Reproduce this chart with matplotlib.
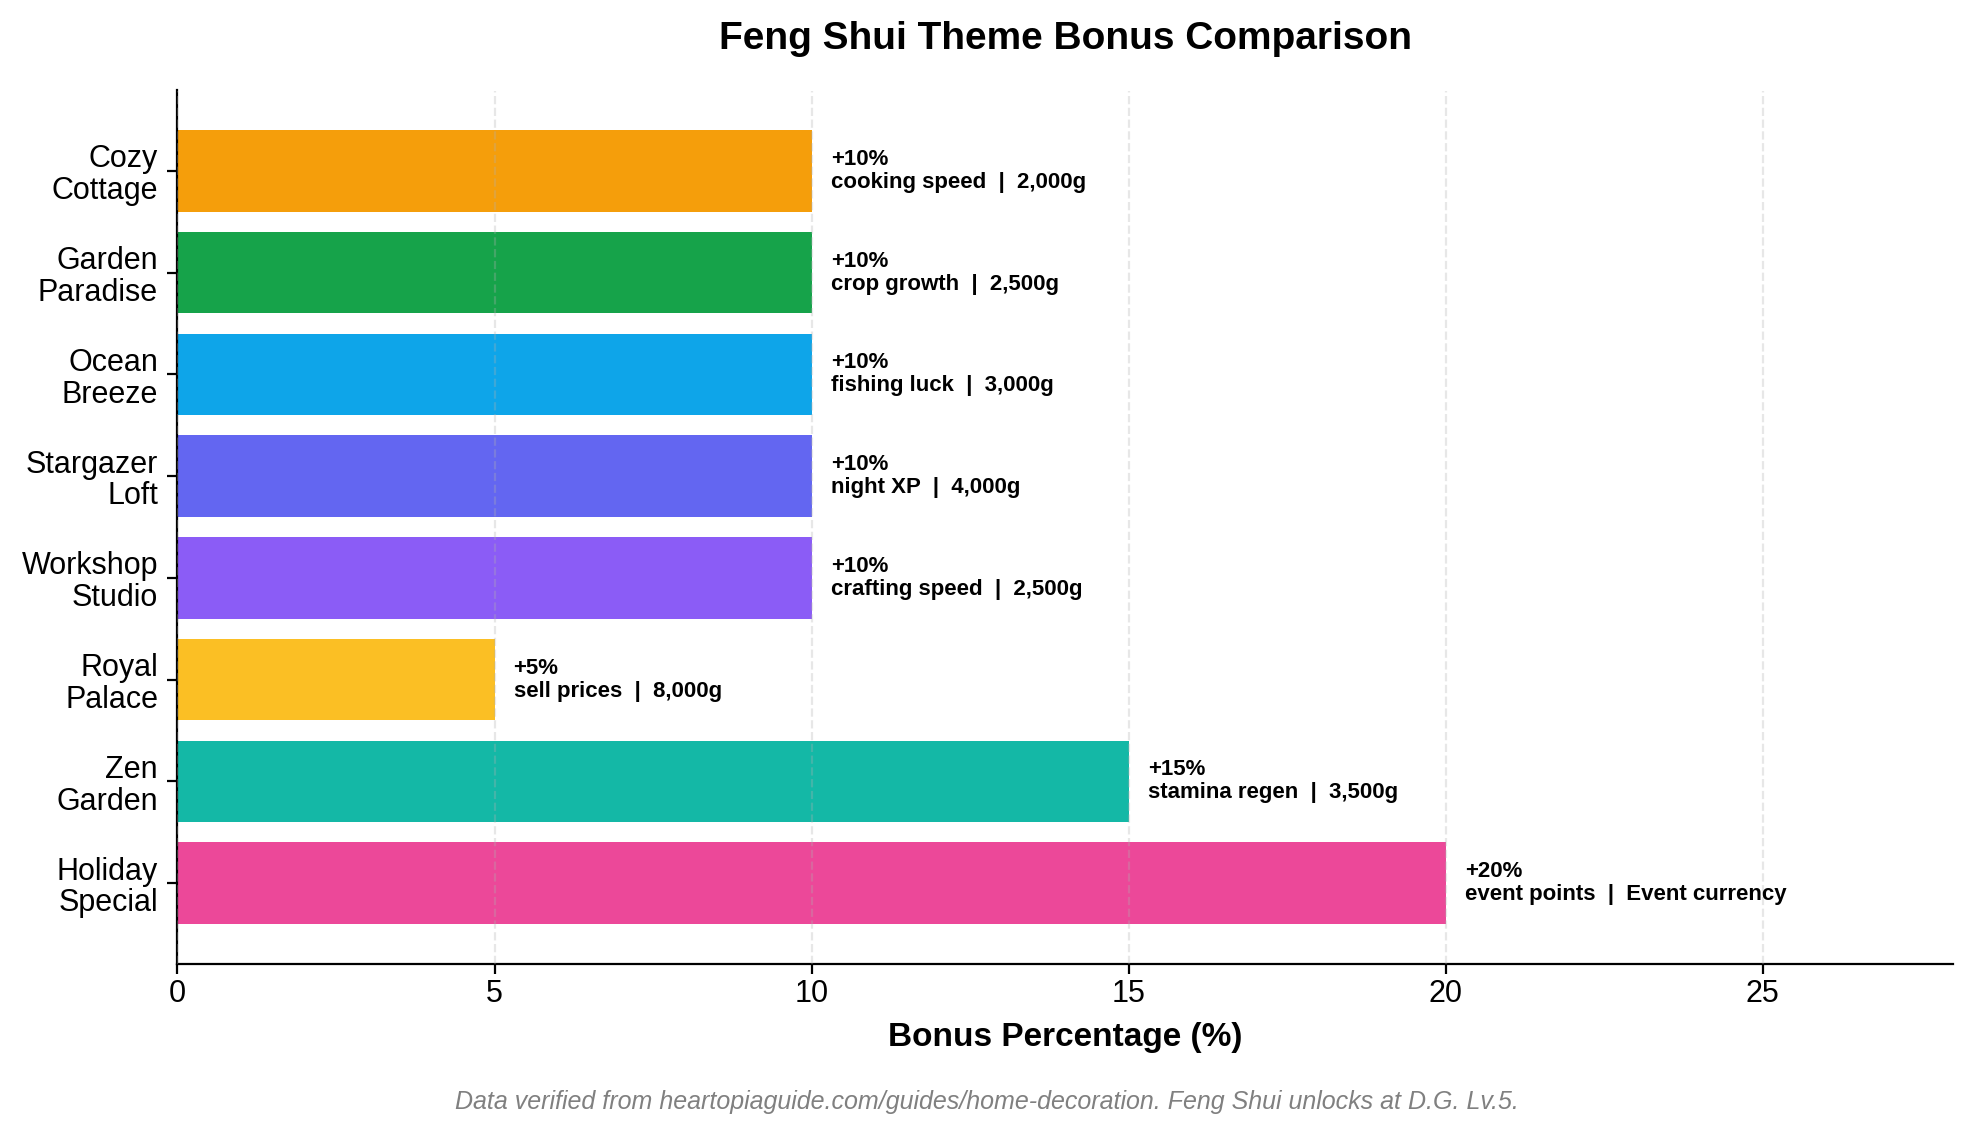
import matplotlib
matplotlib.use("Agg")
import matplotlib.pyplot as plt

plt.rcParams['font.family'] = ['Liberation Sans', 'DejaVu Sans']

themes = ["Cozy\nCottage", "Garden\nParadise", "Ocean\nBreeze", "Stargazer\nLoft",
          "Workshop\nStudio", "Royal\nPalace", "Zen\nGarden", "Holiday\nSpecial"]
bonus = [10, 10, 10, 10, 10, 5, 15, 20]
effects = ["cooking speed", "crop growth", "fishing luck", "night XP",
           "crafting speed", "sell prices", "stamina regen", "event points"]
costs = ["2,000g", "2,500g", "3,000g", "4,000g", "2,500g", "8,000g", "3,500g", "Event currency"]
colors = ["#F59E0B", "#16A34A", "#0EA5E9", "#6366F1", "#8B5CF6", "#FBBF24", "#14B8A6", "#EC4899"]

W, H = 1974, 1134
fig = plt.figure(figsize=(W/200, H/200), dpi=200)
ax = fig.add_axes([177.5/W, 1-963.5/H, (1953-177.5)/W, (963.5-90.5)/H])

y = list(range(len(themes)))
ax.barh(y, bonus, color=colors, height=0.8, zorder=2)
ax.set_yticks(y)
ax.set_yticklabels(themes, fontsize=11, linespacing=1.08)
ax.invert_yaxis()
ax.set_xlim(0, 28)
ax.tick_params(axis='x', labelsize=11, pad=2.2)
ax.set_xlabel("Bonus Percentage (%)", fontsize=12, fontweight='bold', labelpad=4.5)
ax.set_title("Feng Shui Theme Bonus Comparison", fontsize=14, fontweight='bold', pad=15)
ax.spines['top'].set_visible(False)
ax.spines['right'].set_visible(False)
ax.xaxis.grid(True, linestyle='--', alpha=0.3, zorder=3)
ax.set_axisbelow(False)

for yi, b, e, c in zip(y, bonus, effects, costs):
    ax.text(b + 0.3, yi, f"+{b}%\n{e}  |  {c}", va='center', ha='left', fontsize=8,
            fontweight='bold', linespacing=1.12)

fig.text(0.5, 0.0175, "Data verified from heartopiaguide.com/guides/home-decoration. Feng Shui unlocks at D.G. Lv.5.",
         ha='center', va='bottom', fontsize=9, style='italic', color='gray')
fig.savefig("out.png", dpi=200)
